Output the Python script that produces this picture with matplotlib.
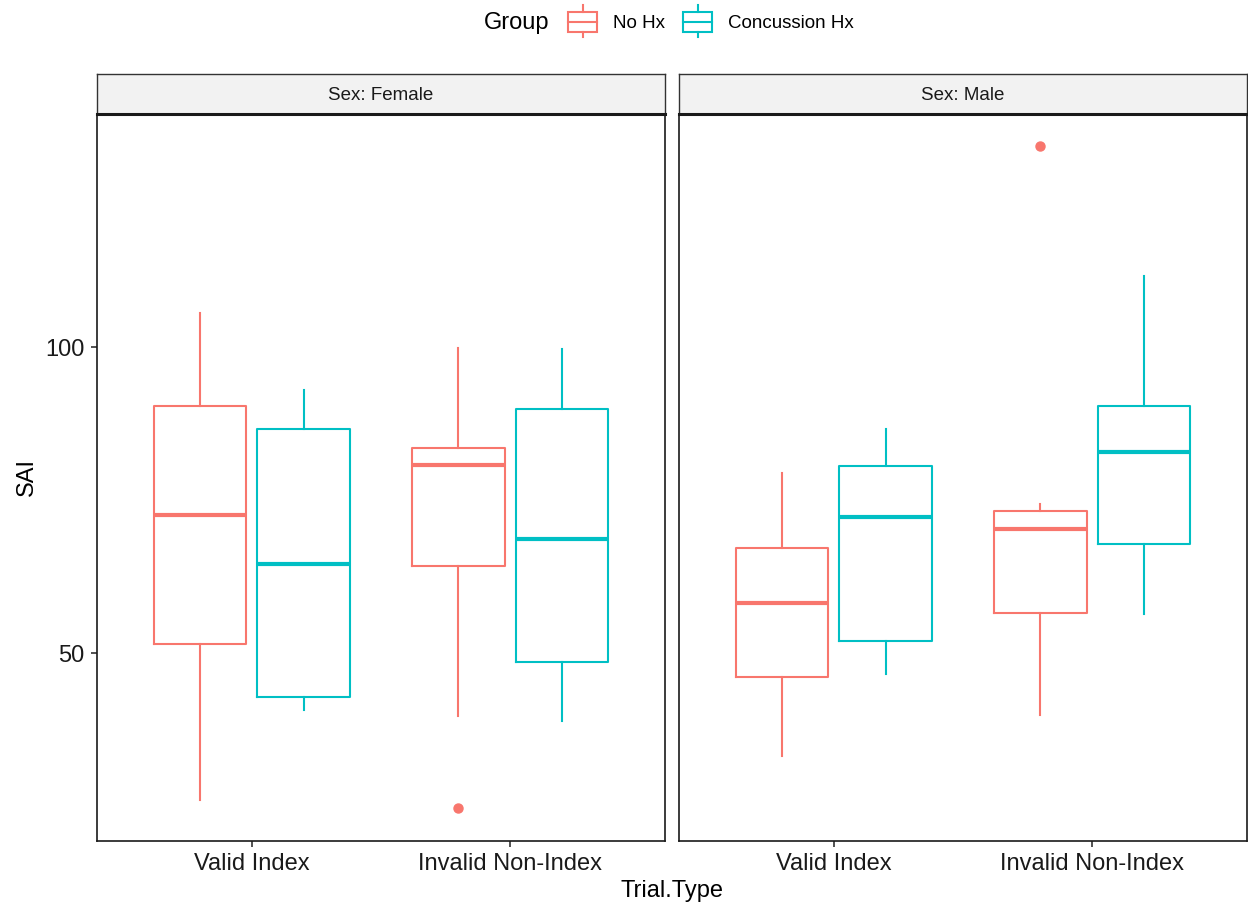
import matplotlib.pyplot as plt
from matplotlib.patches import Rectangle

plt.rcParams['font.family'] = ['Liberation Sans', 'DejaVu Sans']

categories = ['Valid Index', 'Invalid Non-Index']
groups = ['No Hx', 'Concussion Hx']
colors = ['#F8766D', '#00BFC4']
sexes = ['Female', 'Male']

female_no_hx = [[26.0, 51.5, 72.5, 90.4, 105.6], [39.7, 64.2, 80.7, 83.5, 99.8]]
female_no_hx_out = [[], [24.7]]
female_conc = [[40.7, 42.8, 64.5, 86.6, 93.0], [38.9, 48.5, 68.6, 89.9, 99.7]]
female_conc_out = [[], []]
male_no_hx = [[33.2, 46.1, 58.2, 67.2, 79.4], [39.9, 56.5, 70.3, 73.2, 74.3]]
male_no_hx_out = [[], [132.8]]
male_conc = [[46.6, 52.0, 72.2, 80.6, 86.6], [56.4, 67.8, 82.8, 90.4, 111.6]]
male_conc_out = [[], []]

daten = {
    'Female': [(female_no_hx, female_no_hx_out), (female_conc, female_conc_out)],
    'Male': [(male_no_hx, male_no_hx_out), (male_conc, male_conc_out)],
}

def make_stats(five, outliers):
    stats = []
    for f, o in zip(five, outliers):
        stats.append(dict(whislo=f[0], q1=f[1], med=f[2], q3=f[3], whishi=f[4], fliers=o))
    return stats

fig = plt.figure(figsize=(12.48, 9.11), dpi=100)
W, H = 1248, 911

def px_axes(x0, y0, x1, y1):
    return fig.add_axes([x0 / W, 1 - y1 / H, (x1 - x0) / W, (y1 - y0) / H])

panels = [(97, 665), (679, 1247)]
offsets = [-0.2, 0.2]
box_w = 0.357

for i, sex in enumerate(sexes):
    x0, x1 = panels[i]
    ax = px_axes(x0, 114, x1, 841)
    for g, (five, out) in enumerate(daten[sex]):
        pos = [k + 1 + offsets[g] for k in range(len(categories))]
        c = colors[g]
        ax.bxp(make_stats(five, out), positions=pos, widths=box_w, showcaps=False,
               boxprops=dict(color=c, linewidth=1.5),
               whiskerprops=dict(color=c, linewidth=1.5),
               medianprops=dict(color=c, linewidth=3),
               flierprops=dict(marker='o', markerfacecolor=c, markeredgecolor=c, markersize=6.5))
    ax.set_xlim(0.4, 2.6)
    ax.set_ylim(19.3, 138.1)
    ax.set_xticks([1, 2])
    ax.set_xticklabels(categories, fontsize=17, color='#1a1a1a')
    ax.set_yticks([50, 100])
    if i == 0:
        ax.set_yticklabels(['50', '100'], fontsize=17, color='#1a1a1a')
        ax.set_ylabel('SAI', fontsize=17, labelpad=5)
    else:
        ax.tick_params(axis='y', left=False, labelleft=False)
    ax.tick_params(axis='both', length=4, width=1.2, color='#333333', pad=5)
    for s in ax.spines.values():
        s.set_linewidth(1.2)
        s.set_color('#1a1a1a')

    # Streifen oben
    sax = px_axes(x0, 74, x1, 114)
    sax.set_facecolor('#F2F2F2')
    sax.set_xticks([])
    sax.set_yticks([])
    for s in sax.spines.values():
        s.set_linewidth(1.0)
        s.set_color('#333333')
    sax.spines['bottom'].set_linewidth(2.2)
    sax.spines['bottom'].set_color('#1a1a1a')
    sax.text(0.5, 0.45, 'Sex: ' + sex, ha='center', va='center', fontsize=13.5,
             color='#1a1a1a', transform=sax.transAxes)

fig.text(672 / W, 1 - 891 / H, 'Trial.Type', ha='center', va='center', fontsize=17)

# Legende oben
lax = px_axes(0, 0, W, 45)
lax.set_xlim(0, W)
lax.set_ylim(45, 0)
lax.axis('off')
lax.text(484, 23, 'Group', ha='left', va='center', fontsize=17)
key_x = [568, 683]
text_x = [613, 728]
for g in range(len(groups)):
    c = colors[g]
    kx = key_x[g]
    lax.add_patch(Rectangle((kx, 12), 29, 20, fill=False, edgecolor=c, linewidth=1.5))
    lax.plot([kx, kx + 29], [22, 22], color=c, linewidth=1.5)
    lax.plot([kx + 14.5, kx + 14.5], [5, 12], color=c, linewidth=1.5)
    lax.plot([kx + 14.5, kx + 14.5], [32, 37], color=c, linewidth=1.5)
    lax.text(text_x[g], 23, groups[g], ha='left', va='center', fontsize=13.5)

fig.savefig('out.png', dpi=100)
